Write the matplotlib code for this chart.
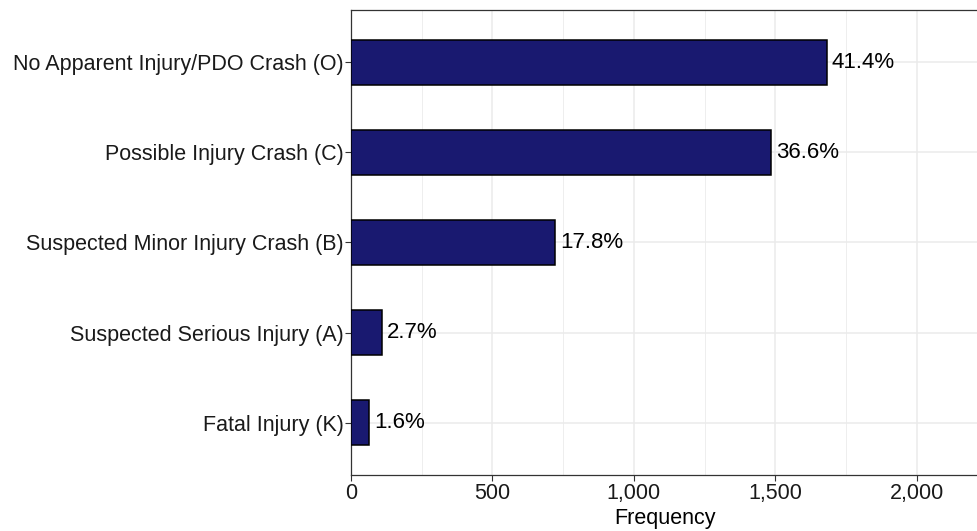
import matplotlib.pyplot as plt
from matplotlib.ticker import FuncFormatter, MultipleLocator

categories = ["No Apparent Injury/PDO Crash (O)", "Possible Injury Crash (C)",
              "Suspected Minor Injury Crash (B)", "Suspected Serious Injury (A)",
              "Fatal Injury (K)"]
counts = [1683, 1486, 722, 109, 65]
xticks = [0, 500, 1000, 1500, 2000]

plt.rcParams['font.family'] = ['Liberation Sans', 'DejaVu Sans']

fig = plt.figure(figsize=(9.77, 5.31), dpi=100)
ax = fig.add_axes([0.3593, 0.1055, 0.6427, 0.8757])

total = sum(counts)
ypos = list(range(len(categories)))[::-1]
ax.barh(ypos, counts, height=0.5, color="#191970", edgecolor="black", linewidth=1.1, zorder=3)
for y, c in zip(ypos, counts):
    ax.annotate(f"{100 * c / total:.1f}%", xy=(c, y), xytext=(3.5, 0),
                textcoords='offset points', va='center', ha='left',
                fontsize=16, color='black', zorder=4)

ax.set_xlim(0, 2220)
ax.set_ylim(-0.58, 4.58)
ax.set_yticks(ypos)
ax.set_yticklabels(categories)
ax.set_xticks(xticks)
ax.xaxis.set_major_formatter(FuncFormatter(lambda v, p: f"{int(v):,}"))
ax.xaxis.set_minor_locator(MultipleLocator(250))

ax.grid(True, which='major', color='#ebebeb', linewidth=1.1, zorder=0)
ax.grid(True, which='minor', axis='x', color='#ebebeb', linewidth=0.6, zorder=0)
ax.tick_params(axis='both', which='major', labelsize=15.5, color='#333333', length=4,
               width=0.8, labelcolor='#1a1a1a', pad=1.5)
ax.tick_params(axis='x', which='minor', length=0)

for s in ax.spines.values():
    s.set_color('#333333')
    s.set_linewidth(0.9)
ax.spines['right'].set_visible(False)

ax.set_xlabel("Frequency", fontsize=15.5, labelpad=3)

fig.savefig("out.png", dpi=100)
